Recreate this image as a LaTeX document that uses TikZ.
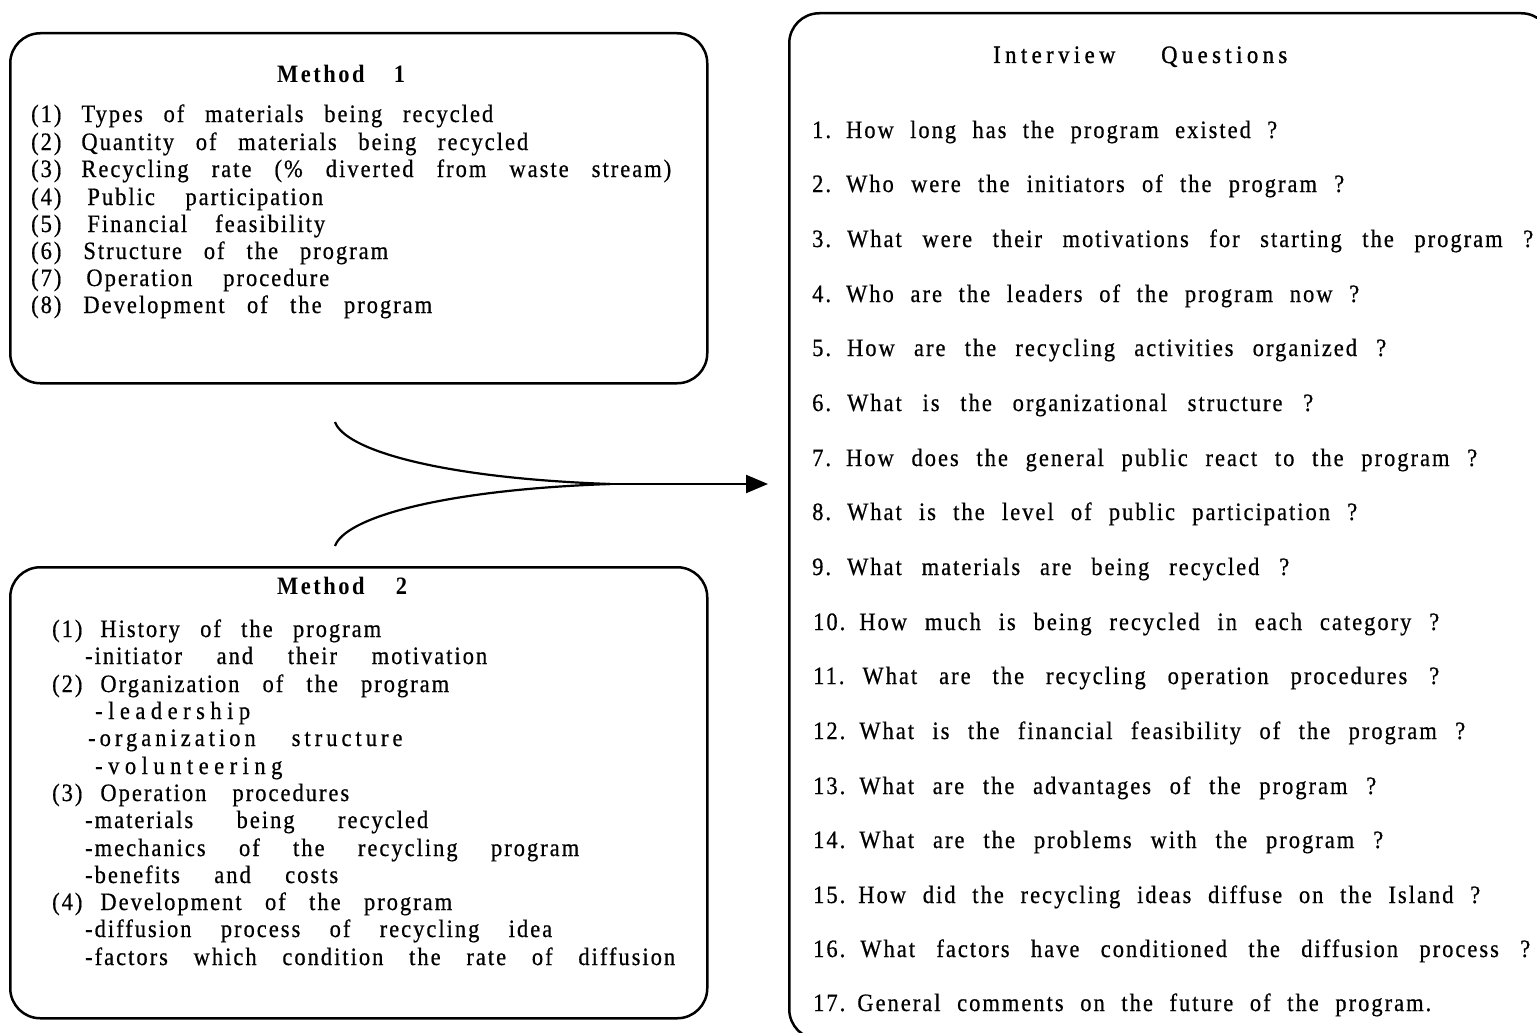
\documentclass[tikz,border=0pt]{standalone}
\usepackage{fontspec}
\setmainfont[FakeStretch=0.9,FakeBold=0.6]{Liberation Serif}
\newfontfamily\widefont[FakeStretch=0.9,FakeBold=0.6,LetterSpace=22]{Liberation Serif}
\newfontfamily\midfont[FakeStretch=0.9,FakeBold=0.6,LetterSpace=16]{Liberation Serif}
\newfontfamily\titlefont[FakeStretch=0.9,FakeBold=1.2,LetterSpace=18]{Liberation Serif}
\newfontfamily\headfont[FakeStretch=0.9,LetterSpace=10]{Liberation Serif}
\usetikzlibrary{arrows.meta}
\newcommand\tline[5]{\node[txt] (#1) at (#2,#3) {\makebox[#4pt][s]{#5}};}
\newcommand\fx[1]{\kern#1pt\relax}
\begin{document}
\begin{tikzpicture}[x=1pt,y=-1pt,
  txt/.style={anchor=base west, inner sep=0pt, font=\fontsize{25}{28}\selectfont\addfontfeature{LetterSpace=8}},
  box/.style={draw=black, line width=2.5pt, rounded corners=30pt, anchor=north west, inner sep=0pt},
  conn/.style={draw=black, line width=2.2pt}]
\useasboundingbox (0,0) rectangle (1537,1033);
\clip (0,0) rectangle (1537,1033);
\fill[white] (0,0) rectangle (1537,1033);
% boxes
\node[box, minimum width=697pt, minimum height=350pt] (b1) at (9,32) {};
\node[box, minimum width=697pt, minimum height=451pt] (b2) at (9,566) {};
\node[box, minimum width=762pt, minimum height=1026pt] (b3) at (788,12) {};
% Method 1
\tline{m1t}{277}{82}{128}{\headfont\bfseries Method 1}
\tline{m1a}{31}{122}{462}{(1)\fx{20}Types of materials being recycled}
\tline{m1b}{31}{150}{497}{(2)\fx{20}Quantity of materials being recycled}
\tline{m1c}{31}{177}{640}{(3)\fx{20}Recycling rate (\% diverted from waste stream)}
\tline{m1d}{31}{205}{292}{(4)\fx{26}Public participation}
\tline{m1e}{31}{232}{294}{(5)\fx{26}Financial feasibility}
\tline{m1f}{31}{259}{357}{(6)\fx{22}Structure of the program}
\tline{m1g}{31}{286}{298}{(7)\fx{25}Operation procedure}
\tline{m1h}{31}{313}{401}{(8)\fx{22}Development of the program}
% Method 2
\tline{m2t}{277}{594}{130}{\headfont\bfseries Method 2}
\tline{m2a}{52}{637}{329}{(1)\fx{18}History of the program}
\tline{m2b}{85}{664}{402}{-initiator and their motivation}
\tline{m2c}{52}{692}{397}{(2)\fx{18}Organization of the program}
\tline{m2d}{95}{719}{154}{\widefont -leadership}
\tline{m2e}{88}{746}{313}{\midfont -organization\hskip 36pt plus 1fil structure}
\tline{m2f}{95}{774}{189}{\widefont -volunteering}
\tline{m2g}{52}{801}{297}{(3)\fx{18}Operation procedures}
\tline{m2h}{85}{828}{343}{-materials being recycled}
\tline{m2i}{85}{856}{494}{-mechanics of the recycling program}
\tline{m2j}{85}{883}{253}{-benefits and costs}
\tline{m2k}{52}{910}{400}{(4)\fx{18}Development of the program}
\tline{m2l}{85}{937}{467}{-diffusion process of recycling idea}
\tline{m2m}{85}{965}{590}{-factors which condition the rate of diffusion}
% Interview questions
\tline{qt}{993}{63}{294}{\titlefont Interview\hskip 30pt plus 1fil Questions}
\tline{q1}{812}{138}{465}{1.\fx{15}How long has the program existed ?}
\tline{q2}{812}{192}{532}{2.\fx{15}Who were the initiators of the program ?}
\tline{q3}{812}{247}{721}{3.\fx{16}What were their motivations for starting the program ?}
\tline{q4}{812}{302}{547}{4.\fx{15}Who are the leaders of the program now ?}
\tline{q5}{812}{356}{574}{5.\fx{16}How are the recycling activities organized ?}
\tline{q6}{812}{411}{501}{6.\fx{16}What is the organizational structure ?}
\tline{q7}{812}{466}{665}{7.\fx{15}How does the general public react to the program ?}
\tline{q8}{812}{520}{545}{8.\fx{16}What is the level of public participation ?}
\tline{q9}{812}{575}{477}{9.\fx{16}What materials are being recycled ?}
\tline{q10}{813}{630}{626}{10.\fx{14}How much is being recycled in each category ?}
\tline{q11}{813}{684}{626}{11.\fx{18}What are the recycling operation procedures ?}
\tline{q12}{813}{739}{652}{12.\fx{14}What is the financial feasibility of the program ?}
\tline{q13}{813}{794}{563}{13.\fx{14}What are the advantages of the program ?}
\tline{q14}{813}{848}{570}{14.\fx{14}What are the problems with the program ?}
\tline{q15}{813}{903}{667}{15.\fx{13}How did the recycling ideas diffuse on the Island ?}
\tline{q16}{813}{957}{717}{16.\fx{15}What factors have conditioned the diffusion process ?}
\tline{q17}{813}{1011}{618}{17.\fx{12}General comments on the future of the program.}
% merging arrow
\coordinate (s1) at (335,422);
\coordinate (s2) at (335,546);
\coordinate (j) at (610,484);
\coordinate (tip) at (768,484);
\draw[conn] (s1) .. controls (345,450) and (440,478) .. (j);
\draw[conn] (s2) .. controls (345,518) and (440,490) .. (j);
\draw[conn, -{Triangle[length=22pt,width=18pt]}] (j) -- (tip);
\end{tikzpicture}
\end{document}
